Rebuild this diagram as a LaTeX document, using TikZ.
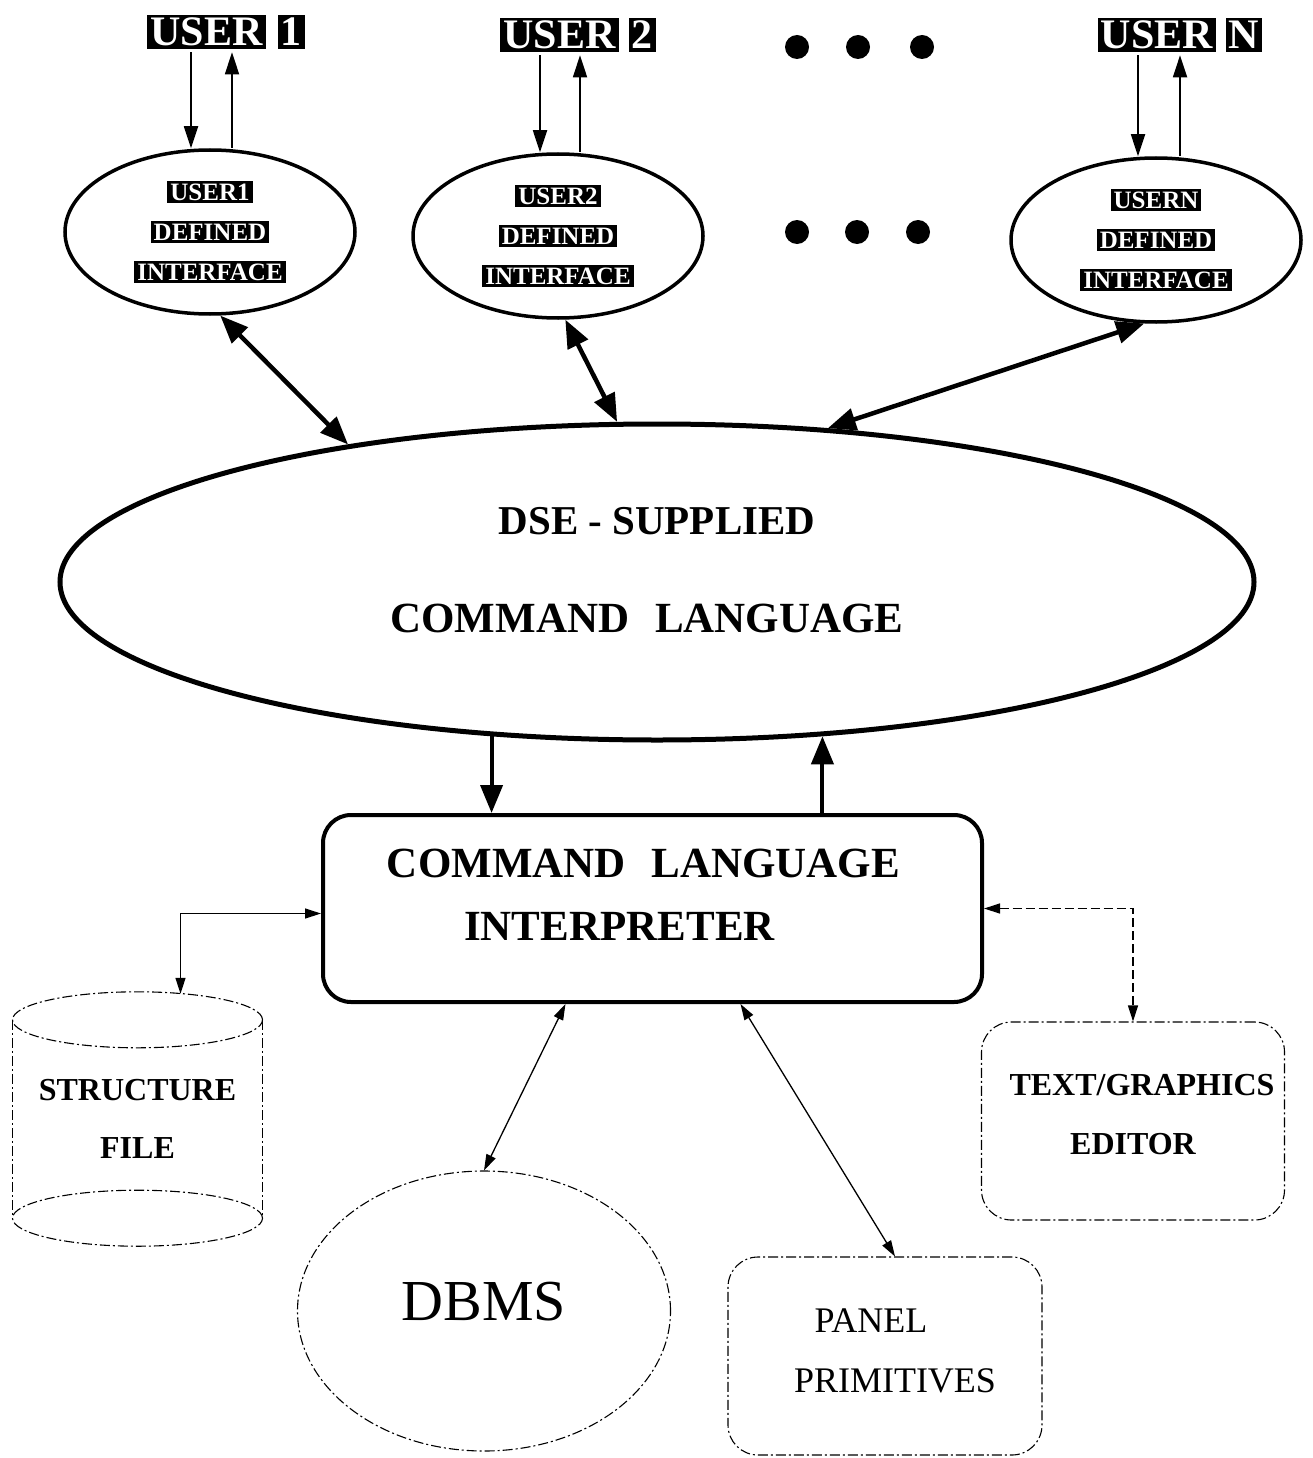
\documentclass[tikz,border=0pt]{standalone}
\usepackage{fontspec}
\setmainfont{Liberation Serif}
\usetikzlibrary{shapes.geometric,arrows.meta,calc}
\setlength{\fboxsep}{3pt}
\begin{document}
\begin{tikzpicture}[x=1pt,y=-1pt,
  BT/.tip={Triangle[length=28pt,width=22pt]},
  MT/.tip={Triangle[length=22pt,width=14pt]},
  ST/.tip={Triangle[length=16pt,width=10pt]},
  userlab/.style={inner sep=0pt, text=white, font=\bfseries\fontsize{42}{48}\selectfont},
  smallell/.style={ellipse, draw, line width=3.5pt, minimum width=290pt, minimum height=164pt,
     inner sep=0pt, align=center, text=white, font=\bfseries\fontsize{25}{40}\selectfont},
  bigell/.style={ellipse, draw, line width=5pt, minimum width=1194pt, minimum height=316pt,
     inner sep=0pt, align=center, font=\bfseries\fontsize{41}{48}\selectfont},
  clibox/.style={rectangle, draw, line width=4pt, rounded corners=28pt, minimum width=659pt,
     minimum height=187pt, align=center, font=\bfseries\fontsize{43}{63}\selectfont},
  dashshape/.style={draw, line width=1.1pt, dash pattern=on 10pt off 3pt on 2pt off 3pt},
  sfnode/.style={rectangle, minimum width=250pt, minimum height=254pt, inner sep=0pt,
     align=center, font=\bfseries\fontsize{32}{58}\selectfont},
  edbox/.style={dashshape, rectangle, rounded corners=30pt, minimum width=303pt, minimum height=198pt,
     align=center, font=\bfseries\fontsize{32}{59}\selectfont},
  panelbox/.style={dashshape, rectangle, rounded corners=30pt, minimum width=314pt, minimum height=198pt,
     align=center, font=\fontsize{36}{60}\selectfont},
  dbmsell/.style={dashshape, ellipse, minimum width=373pt, minimum height=280pt, inner sep=0pt,
     text depth=20pt, font=\fontsize{58}{60}\selectfont},
  uarr/.style={-MT, line width=1.8pt},
  bigd/.style={BT-BT, line width=4.5pt},
  bigs/.style={-BT, line width=4pt},
  thinc/.style={ST-ST, line width=1.3pt},
]
\useasboundingbox (0,0) rectangle (1313,1458);
\fill[white] (0,0) rectangle (1313,1458);

% user labels
\node[userlab] (u1) at (226,32) {\colorbox{black}{USER}\hspace{12pt}\colorbox{black}{1}};
\node[userlab] (u2) at (578,35) {\colorbox{black}{USER}\hspace{10pt}\colorbox{black}{2}};
\node[userlab] (un) at (1180,35) {\colorbox{black}{USER}\hspace{10pt}\colorbox{black}{N}};

% dots
\foreach \x in {797,858,922} \fill (\x,47) circle (12pt);
\foreach \x in {797,857,918} \fill (\x,232) circle (12pt);

% small ellipses
\node[smallell] (e1) at (210,232) {\colorbox{black}{USER1}\\\colorbox{black}{DEFINED}\\\colorbox{black}{INTERFACE}};
\node[smallell] (e2) at (558,236) {\colorbox{black}{USER2}\\\colorbox{black}{DEFINED}\\\colorbox{black}{INTERFACE}};
\node[smallell] (en) at (1156,240) {\colorbox{black}{USERN}\\\colorbox{black}{DEFINED}\\\colorbox{black}{INTERFACE}};

% user arrows
\draw[uarr] ($(u1.south -| e1.north)+(-19,3)$) -- ($(e1.north)+(-19,0)$);
\draw[uarr] ($(e1.north)+(22,0)$) -- ($(u1.south -| e1.north)+(22,3)$);
\draw[uarr] ($(u2.south -| e2.north)+(-18,3)$) -- ($(e2.north)+(-18,0)$);
\draw[uarr] ($(e2.north)+(22,0)$) -- ($(u2.south -| e2.north)+(22,3)$);
\draw[uarr] ($(un.south -| en.north)+(-18,3)$) -- ($(en.north)+(-18,0)$);
\draw[uarr] ($(en.north)+(24,0)$) -- ($(un.south -| en.north)+(24,3)$);

% big ellipse
\node[bigell] (big) at (657,582) {DSE - SUPPLIED\\[50pt]{\fontsize{43}{48}\selectfont COMMAND\hspace{0.6em}LANGUAGE}\hspace{20pt}\mbox{}\\[-24pt]\mbox{}};

\draw[bigd] (e1.277) -- (big.156);
\draw[bigd] (e2.275) -- (big.104);
\draw[bigd] (en.262) -- (big.42);

% command language interpreter
\node[clibox] (cli) at (652.5,908.5) {COMMAND\hspace{0.6em}LANGUAGE\hspace{18pt}\mbox{}\\INTERPRETER\hspace{66pt}\mbox{}\\[-35pt]\mbox{}};

\draw[bigs] (big.223) -- (big.223 |- cli.north);
\draw[bigs] (cli.north -| big.317) -- (big.317);

% structure file
\node[sfnode] (sf) at (137.5,1119) {STRUCTURE\\FILE};
\draw[dashshape] ($(sf.north)+(0,28)$) ellipse [x radius=125pt, y radius=28pt];
\draw[dashshape] ($(sf.south)+(0,-28)$) ellipse [x radius=125pt, y radius=28pt];
\draw[dashshape] ($(sf.north west)+(0,28)$) -- ($(sf.south west)+(0,-28)$);
\draw[dashshape] ($(sf.north east)+(0,28)$) -- ($(sf.south east)+(0,-28)$);

% DBMS
\node[dbmsell] (dbms) at (484,1311) {DBMS};

% panel primitives
\node[panelbox] (panel) at (885,1356) {PANEL\hspace{28pt}\mbox{}\\\hspace{20pt}PRIMITIVES\\[-50pt]\mbox{}};

% text/graphics editor
\node[edbox] (ed) at (1133,1121) {\hspace{18pt}TEXT/GRAPHICS\\EDITOR\\[-45pt]\mbox{}};

% connectors
\draw[thinc] ($(cli.west)+(0,5)$) -| ($(sf.north)+(43,2)$);
\draw[thinc] ($(cli.south)+(-87,0)$) -- (dbms.north);
\draw[thinc] ($(cli.south)+(88,0)$) -- ($(panel.north)+(10,0)$);
\draw[thinc, dash pattern=on 9pt off 4pt] (cli.east) -| (ed.north);
\end{tikzpicture}
\end{document}
